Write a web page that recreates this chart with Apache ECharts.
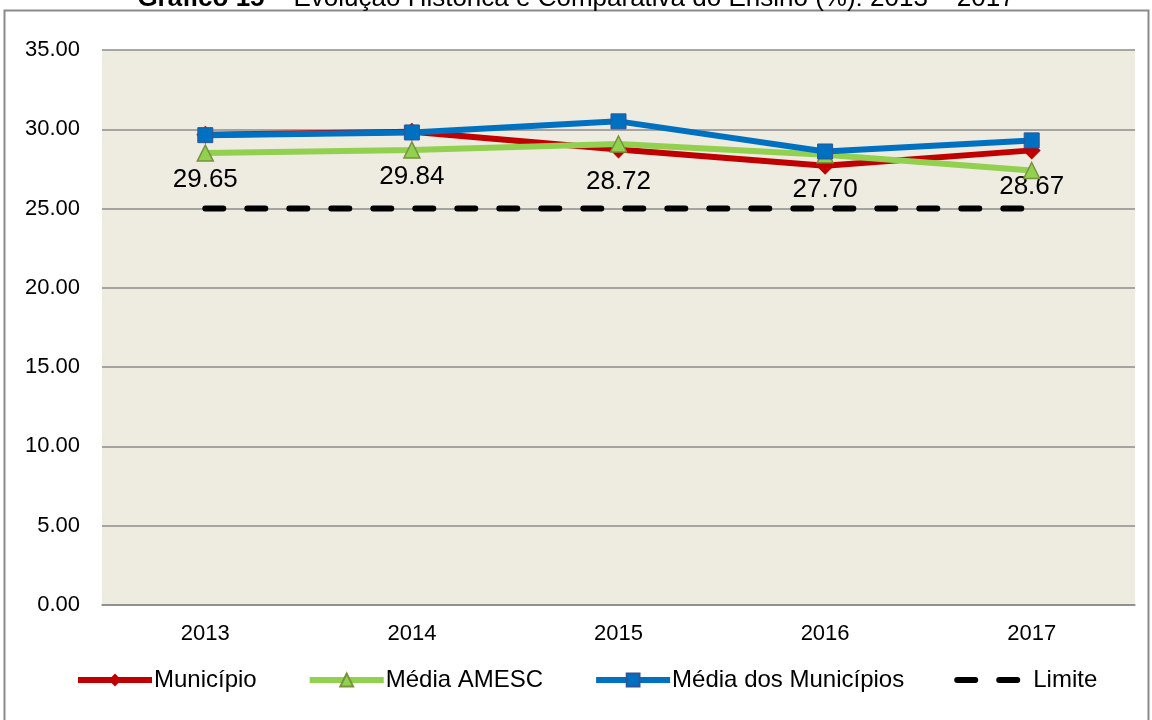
<!DOCTYPE html>
<html>
<head>
<meta charset="utf-8">
<script src="https://cdn.jsdelivr.net/npm/echarts@6/dist/echarts.min.js"></script>
<style>
html,body{margin:0;padding:0;background:#fff}
#chart{width:1152px;height:720px}
</style>
</head>
<body>
<div id="chart"></div>
<script>
// dados do gráfico
const anos = ['2013', '2014', '2015', '2016', '2017']
const municipio = [29.65, 29.84, 28.72, 27.70, 28.67]
const mediaAmesc = [28.5, 28.7, 29.07, 28.4, 27.4]
const mediaMunicipios = [29.63, 29.8, 30.5, 28.6, 29.3]
const limite = [25, 25, 25, 25, 25]

// ajuste manual dos rótulos (como no gráfico original)
const rotuloAjuste = [1, 1, -12, -20, -8]

const font = 'Liberation Sans, Arial, sans-serif'

const chart = echarts.init(document.getElementById('chart'))

chart.setOption({
  animation: false,
  textStyle: { fontFamily: font },
  title: {
    text: '{b|Gráfico 15} – Evolução Histórica e Comparativa do Ensino (%): 2013 – 2017',
    left: 'center',
    top: -19,
    textStyle: {
      fontFamily: font,
      fontSize: 26,
      fontWeight: 'normal',
      color: '#000',
      rich: { b: { fontFamily: font, fontSize: 26, fontWeight: 'bold', color: '#000' } }
    }
  },
  graphic: [{
    type: 'rect',
    shape: { x: 4.5, y: 10.5, width: 1144, height: 720 },
    style: { fill: 'none', stroke: '#8a8a8a', lineWidth: 2 },
    silent: true
  }],
  grid: {
    left: 102, right: 17, top: 50, bottom: 115,
    show: true, backgroundColor: '#EEEBE0', borderWidth: 0
  },
  legend: {
    bottom: 23,
    left: 70,
    itemWidth: 74,
    itemHeight: 16,
    itemGap: 50,
    textStyle: { fontFamily: font, fontSize: 24, color: '#000', padding: [0, 0, 0, -3] },
    data: [
      { name: 'Município', lineStyle: { width: 6 } },
      { name: 'Média AMESC', lineStyle: { width: 6 } },
      { name: 'Média dos Municípios', lineStyle: { width: 6 } },
      { name: 'Limite', lineStyle: { width: 6 }, itemStyle: { opacity: 0 } }
    ]
  },
  xAxis: {
    type: 'category',
    data: anos,
    boundaryGap: true,
    axisLine: { lineStyle: { color: '#8a8a8a', width: 1.5 } },
    axisTick: { show: false },
    axisLabel: { fontSize: 22, color: '#000', margin: 18, fontFamily: font }
  },
  yAxis: {
    type: 'value',
    min: 0, max: 35, interval: 5,
    axisLine: { show: false },
    axisTick: { show: false },
    splitLine: { lineStyle: { color: '#8c8c8c', width: 1.5 } },
    axisLabel: {
      fontSize: 22, color: '#000', margin: 22, fontFamily: font,
      formatter: v => v.toFixed(2)
    }
  },
  series: [
    {
      name: 'Município', type: 'line', data: municipio,
      symbol: 'diamond', symbolSize: 18,
      lineStyle: { color: '#C00000', width: 6 },
      itemStyle: { color: '#C00000' },
      label: {
        show: true, position: 'bottom', distance: 22,
        fontSize: 26, color: '#000', fontFamily: font,
        formatter: p => p.value.toFixed(2)
      },
      labelLayout: p => ({ dy: rotuloAjuste[p.dataIndex] }),
      z: 3
    },
    {
      name: 'Média AMESC', type: 'line', data: mediaAmesc,
      symbol: 'triangle', symbolSize: 16,
      lineStyle: { color: '#92D050', width: 6 },
      itemStyle: { color: '#92D050', borderColor: '#77933C', borderWidth: 1.5 },
      z: 4
    },
    {
      name: 'Média dos Municípios', type: 'line', data: mediaMunicipios,
      symbol: 'rect', symbolSize: 15,
      lineStyle: { color: '#0070C0', width: 6 },
      itemStyle: { color: '#0070C0', borderColor: '#2F5597', borderWidth: 1 },
      z: 5
    },
    {
      name: 'Limite', type: 'line', data: limite,
      symbol: 'none',
      lineStyle: { color: '#000', width: 6, type: [18, 24], cap: 'round' },
      itemStyle: { color: '#000' },
      z: 2
    }
  ]
})

window.addEventListener('resize', () => chart.resize())
</script>
</body>
</html>
